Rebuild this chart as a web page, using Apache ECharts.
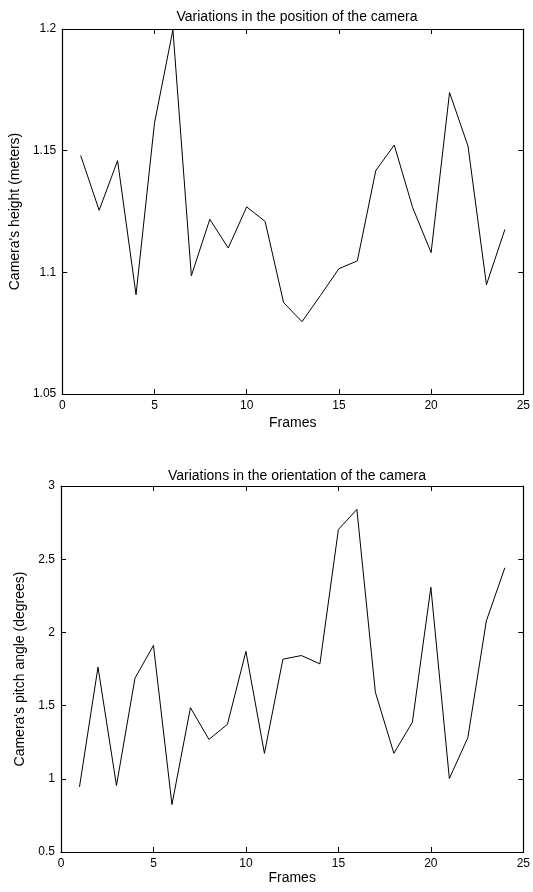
<!DOCTYPE html>
<html>
<head>
<meta charset="utf-8">
<script src="https://cdn.jsdelivr.net/npm/echarts@6/dist/echarts.min.js"></script>
<style>
  html, body { margin: 0; padding: 0; background: #fff; }
  #main { width: 533px; height: 892px; }
</style>
</head>
<body>
<div id="main"></div>
<script>
// frame numbers 1..24
var frames = [1, 2, 3, 4, 5, 6, 7, 8, 9, 10, 11, 12, 13, 14, 15, 16, 17, 18, 19, 20, 21, 22, 23, 24];
// camera height (meters)
var heights = [1.148, 1.1255, 1.1459, 1.0908, 1.1613, 1.1997, 1.0986, 1.1218, 1.110, 1.1269, 1.1209, 1.0876,
               1.0797, 1.0905, 1.1015, 1.1047, 1.1418, 1.1523, 1.1266, 1.1081, 1.1739, 1.1519, 1.0949, 1.1176];
// camera pitch angle (degrees)
var pitch = [0.945, 1.763, 0.954, 1.687, 1.911, 0.824, 1.486, 1.269, 1.372, 1.870, 1.174, 1.817,
             1.842, 1.785, 2.703, 2.840, 1.591, 1.174, 1.386, 2.308, 1.002, 1.281, 2.078, 2.441];

var font = '"Liberation Sans", Arial, Helvetica, sans-serif';

function pairs(xs, ys) {
    return xs.map(function (x, i) { return [x, ys[i]]; });
}

function xAx(grid, pos, showLabel, gap) {
    return {
        type: 'value', gridIndex: grid, position: pos,
        min: 0, max: 25, interval: 5,
        name: showLabel ? 'Frames' : '', nameLocation: 'middle', nameGap: gap,
        nameTextStyle: { fontFamily: font, fontSize: 14, color: '#000' },
        axisLine: { show: true, onZero: false, lineStyle: { color: '#000', width: 1.2 } },
        axisTick: { show: true, inside: true, length: 5, lineStyle: { color: '#000' } },
        axisLabel: { show: showLabel, margin: 6, fontFamily: font, fontSize: 12, color: '#000' },
        splitLine: { show: false }
    };
}

function yAx(grid, pos, min, max, step, title, gap) {
    return {
        type: 'value', gridIndex: grid, position: pos,
        min: min, max: max, interval: step,
        name: title, nameLocation: 'middle', nameGap: gap,
        nameTextStyle: { fontFamily: font, fontSize: 14, color: '#000' },
        axisLine: { show: true, onZero: false, lineStyle: { color: '#000', width: 1.2 } },
        axisTick: { show: true, inside: true, length: 5, lineStyle: { color: '#000' } },
        axisLabel: { show: title !== '', margin: 6, fontFamily: font, fontSize: 12, color: '#000' },
        splitLine: { show: false }
    };
}

var myChart = echarts.init(document.getElementById('main'));
var option = {
    backgroundColor: '#fff',
    animation: false,
    title: [
        { text: 'Variations in the position of the camera', left: 292, textAlign: 'center', top: 5,
          textStyle: { fontFamily: font, fontSize: 14, fontWeight: 'normal', color: '#000' } },
        { text: 'Variations in the orientation of the camera', left: 292, textAlign: 'center', top: 464,
          textStyle: { fontFamily: font, fontSize: 14, fontWeight: 'normal', color: '#000' } }
    ],
    grid: [
        { left: 61, right: 9, top: 29, height: 365 },
        { left: 61, right: 9, top: 486, height: 366 }
    ],
    xAxis: [
        xAx(0, 'bottom', true, 22),
        xAx(0, 'top', false, 0),
        xAx(1, 'bottom', true, 14),
        xAx(1, 'top', false, 0)
    ],
    yAxis: [
        yAx(0, 'left', 1.05, 1.2, 0.05, "Camera's height (meters)", 39),
        yAx(0, 'right', 1.05, 1.2, 0.05, '', 0),
        yAx(1, 'left', 0.5, 3, 0.5, "Camera's pitch angle (degrees)", 33),
        yAx(1, 'right', 0.5, 3, 0.5, '', 0)
    ],
    series: [
        { type: 'line', xAxisIndex: 0, yAxisIndex: 0, data: pairs(frames, heights),
          showSymbol: false, lineStyle: { color: '#000', width: 1 } },
        { type: 'line', xAxisIndex: 2, yAxisIndex: 2, data: pairs(frames, pitch),
          showSymbol: false, lineStyle: { color: '#000', width: 1 } }
    ]
};
myChart.setOption(option, true);
</script>
</body>
</html>
